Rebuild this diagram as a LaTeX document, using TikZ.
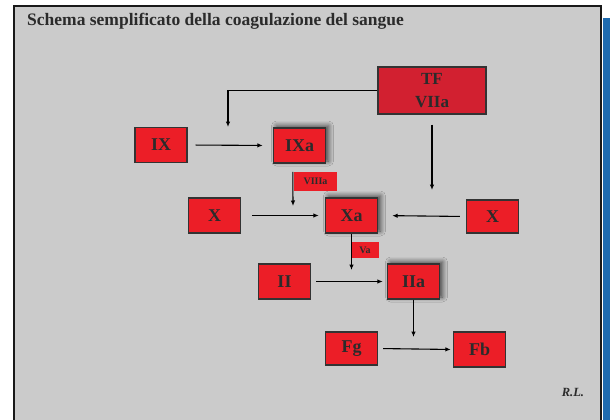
\documentclass[tikz,border=0pt]{standalone}
\usepackage{fontspec}
\setmainfont{Liberation Serif}
\usetikzlibrary{arrows.meta,shadows.blur}
\definecolor{bggray}{HTML}{CBCBCB}
\definecolor{boxred}{HTML}{EC1E27}
\definecolor{tfred}{HTML}{D22030}
\definecolor{edge}{HTML}{333333}
\definecolor{ink}{HTML}{2B2B2B}
\definecolor{stripe}{HTML}{1E6BB0}
\tikzset{
  fbox/.style={draw=edge, line width=1.4pt, fill=boxred, minimum width=52pt, minimum height=35pt, inner sep=0pt,
    text=ink, font=\fontsize{18}{18}\selectfont\bfseries},
  shad/.style={blur shadow={shadow xshift=3pt, shadow yshift=2pt, shadow blur steps=8, shadow blur radius=5pt, shadow opacity=70}},
  tag/.style={fill=boxred, inner sep=0pt, text=ink, font=\fontsize{10}{10}\selectfont\bfseries},
  conn/.style={draw=black, line width=1.1pt, -{Latex[length=5.5pt,width=4.5pt]}},
}
\begin{document}
\begin{tikzpicture}[x=1pt,y=-1pt]
\useasboundingbox (0,0) rectangle (610,420);
\fill[white] (0,0) rectangle (610,420);
\fill[stripe] (603,18) rectangle (610,420);
\draw[draw=black!90, line width=2.4pt, fill=bggray] (14,6) rectangle (601,428);
\node[anchor=west, text=ink, inner sep=0pt, font=\fontsize{17.5}{17.5}\selectfont\bfseries] (title) at (27,21) {Schema semplificato della coagulazione del sangue};

\node[fbox, fill=tfred, minimum width=108pt, minimum height=47pt, align=center, font=\fontsize{17}{23}\selectfont\bfseries] (TF) at (432,90.5) {TF\\VIIa};
\node[fbox] (IX) at (161,145) {IX};
\node[fbox, shad] (IXa) at (299.5,145.5) {IXa};
\node[fbox] (XL) at (214.5,215.5) {X};
\node[fbox, shad] (Xa) at (351.5,215.5) {Xa};
\node[fbox, minimum height=33pt] (XR) at (492.5,216.5) {X};
\node[fbox] (II) at (284.5,281.5) {II};
\node[fbox, shad] (IIa) at (413.5,281.5) {IIa};
\node[fbox, minimum height=33pt] (Fg) at (351.5,348.5) {Fg};
\node[fbox] (Fb) at (479.5,349.5) {Fb};
\node[tag, minimum width=43pt, minimum height=19pt] (V8) at (315.5,181.5) {VIIIa};
\node[tag, minimum width=27pt, minimum height=16pt] (V5) at (365,250) {Va};
\node[text=ink, font=\fontsize{12.5}{12.5}\selectfont\bfseries\itshape] (RL) at (573,392) {R.L.};

\coordinate (c1) at (228,127);
\coordinate (c2) at (432,190);
\coordinate (c3) at (293,206);
\coordinate (c4) at (351.5,270);
\coordinate (c5) at (413.5,337);

\draw[conn] (TF.west) -| (c1);
\draw[conn, shorten <=10pt] (TF.south) -- (c2);
\draw[conn, shorten <=8pt, shorten >=10pt] (IX.east) -- (IXa.west);
\draw[conn] (V8.north west) ++(-1,0) coordinate (v8s) -- (c3);
\draw[conn, shorten <=11pt, shorten >=6pt] (XL.east) -- (Xa.west);
\draw[conn, shorten <=6pt, shorten >=14pt] (XR.west) -- (Xa.east);
\draw[conn] (Xa.south) -- (c4);
\draw[conn, shorten <=5pt, shorten >=4pt] (II.east) -- (IIa.west);
\draw[conn] (IIa.south) -- (c5);
\draw[conn, shorten <=5pt, shorten >=2pt] (Fg.east) -- (Fb.west);
\end{tikzpicture}
\end{document}
